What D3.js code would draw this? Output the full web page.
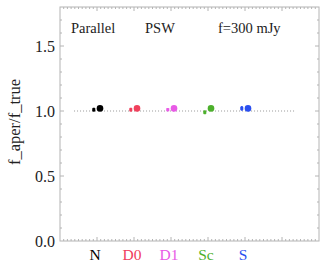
<!DOCTYPE html>
<html>
<head>
<meta charset="utf-8">
<script src="https://cdn.jsdelivr.net/npm/d3@7"></script>
<style>
  body { margin: 0; background: #fff; }
  text { font-family: "Liberation Serif", "DejaVu Serif", serif; }
</style>
</head>
<body>
<svg id="chart" width="327" height="265"></svg>
<script>
// data
const categories = ["N", "D0", "D1", "Sc", "S"];
const colors = ["#000000", "#f0405c", "#e85ae6", "#4cb02c", "#2a4ff0"];
const bigValues = [1.02, 1.02, 1.02, 1.02, 1.02];
const smallValues = [1.01, 1.01, 1.01, 0.99, 1.02];
const smallErr = [0.015, 0.015, 0.012, 0.015, 0.018];
const yTicks = [0.0, 0.5, 1.0, 1.5];
const headers = ["Parallel", "PSW", "f=300 mJy"];

const svg = d3.select("#chart");
const L = 60, R = 319, T = 7, B = 241;
const x = d3.scaleLinear().domain([0, 7]).range([L, R]);
const y = d3.scaleLinear().domain([0, 1.8]).range([B, T]);
const axisCol = "#b4b4b4";

// frame
svg.append("rect").attr("x", L).attr("y", T).attr("width", R - L).attr("height", B - T)
  .attr("fill", "none").attr("stroke", axisCol).attr("stroke-width", 1);

// ticks on all four sides
const g = svg.append("g").attr("stroke", axisCol).attr("stroke-width", 1);
d3.range(1, 70).forEach(i => {
  const v = i / 10, len = i % 10 === 0 ? 4 : 2;
  g.append("line").attr("x1", x(v)).attr("x2", x(v)).attr("y1", B).attr("y2", B - len);
  g.append("line").attr("x1", x(v)).attr("x2", x(v)).attr("y1", T).attr("y2", T + len);
});
d3.range(1, 18).forEach(i => {
  const v = i / 10, len = i % 5 === 0 ? 4 : 2;
  g.append("line").attr("y1", y(v)).attr("y2", y(v)).attr("x1", L).attr("x2", L + len);
  g.append("line").attr("y1", y(v)).attr("y2", y(v)).attr("x1", R).attr("x2", R - len);
});

// y tick labels
svg.selectAll(".yt").data(yTicks).join("text")
  .attr("x", L - 5).attr("y", d => y(d) + 5.5)
  .attr("text-anchor", "end").attr("font-size", 16).attr("fill", "#222")
  .text(d => d.toFixed(1));

// y label
svg.append("text").attr("transform", `translate(20,${(T + B) / 2 - 2}) rotate(-90)`)
  .attr("text-anchor", "middle").attr("font-size", 16.5).attr("fill", "#222")
  .text("f_aper/f_true");

// headers
svg.selectAll(".hd").data(headers).join("text")
  .attr("x", (d, i) => [71, 145, 218][i]).attr("y", 33)
  .attr("font-size", 14.5).attr("fill", "#222").text(d => d);

// reference line at 1
svg.append("line").attr("x1", x(0.38)).attr("x2", x(6.36)).attr("y1", y(1)).attr("y2", y(1))
  .attr("stroke", "#999").attr("stroke-width", 1).attr("stroke-dasharray", "1,2");

// small points with error bars
categories.forEach((c, i) => {
  const cx = x(i + 1) - 3.2;
  svg.append("line").attr("x1", cx).attr("x2", cx)
    .attr("y1", y(smallValues[i] - smallErr[i])).attr("y2", y(smallValues[i] + smallErr[i]))
    .attr("stroke", colors[i]).attr("stroke-width", 2);
  svg.append("rect").attr("x", cx - 1.5).attr("y", y(smallValues[i]) - 1.5)
    .attr("width", 3).attr("height", 3).attr("fill", colors[i]);
});

// big points
svg.selectAll(".big").data(bigValues).join("circle")
  .attr("cx", (d, i) => x(i + 1) + 3).attr("cy", d => y(d)).attr("r", 3.3)
  .attr("fill", (d, i) => colors[i]);

// category labels
svg.selectAll(".cat").data(categories).join("text")
  .attr("x", (d, i) => x(i + 1) - 2).attr("y", 260)
  .attr("text-anchor", "middle").attr("font-size", 15.5)
  .attr("fill", (d, i) => colors[i]).text(d => d);
</script>
</body>
</html>
